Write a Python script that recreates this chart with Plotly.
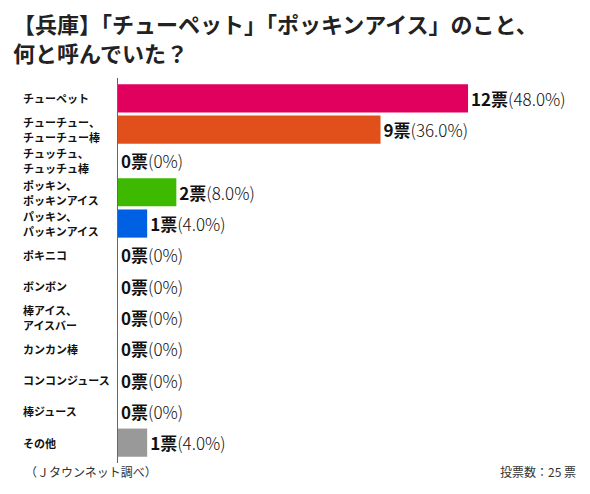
import plotly.graph_objects as go

# data
labels = ["チューペット", "チューチュー、<br>チューチュー棒", "チュッチュ、<br>チュッチュ棒",
          "ポッキン、<br>ポッキンアイス", "パッキン、<br>パッキンアイス", "ポキニコ", "ボンボン",
          "棒アイス、<br>アイスバー", "カンカン棒", "コンコンジュース", "棒ジュース", "その他"]
votes = [12, 9, 0, 2, 1, 0, 0, 0, 0, 0, 0, 1]
colors = ["#E2005F", "#E1501B", "#E1501B", "#3DBA00", "#0060E3", "#999999",
          "#999999", "#999999", "#999999", "#999999", "#999999", "#999999"]
total = 25
title_lines = ["【兵庫】「チューペット」「ポッキンアイス」のこと、", "何と呼んでいた？"]

pct = [f"{v / total * 100:.1f}%" if v else "0%" for v in votes]
font = "Noto Sans CJK JP"

fig = go.Figure(go.Bar(
    x=votes, y=labels, orientation="h",
    marker=dict(color=colors, line=dict(width=0)),
    customdata=pct,
    texttemplate="<b>%{x}票</b><span style=\"font-weight:300\">(%{customdata})</span>",
    textposition="outside",
    textfont=dict(family=font, size=17, color="#111111"),
    cliponaxis=False,
    hoverinfo="skip",
))

# category labels on the left, left-aligned; each text line as its own annotation
for lab in labels:
    parts = lab.split("<br>")
    n = len(parts)
    for j, part in enumerate(parts):
        fig.add_annotation(
            x=0, xref="paper", y=lab, yref="y", xshift=-96,
            yshift=(n - 1) * 7.5 - 15 * j,
            text="<b>" + part + "</b>", showarrow=False, xanchor="left",
            yanchor="middle", align="left", borderpad=0,
            font=dict(family=font, size=11, color="#111111"),
        )

# title, one annotation per line
for i, line in enumerate(title_lines):
    fig.add_annotation(
        x=0, xref="paper", y=1, yref="paper", xshift=-107, yshift=55 - 29 * i,
        text="<b>" + line + "</b>",
        showarrow=False, xanchor="left", yanchor="middle", align="left",
        font=dict(family=font, size=22, color="#222222"),
    )

fig.add_annotation(
    x=0, xref="paper", y=0, yref="paper", xshift=-95, yshift=-8,
    text="（Ｊタウンネット調べ）", showarrow=False, xanchor="left", yanchor="middle",
    font=dict(family=font, size=12, color="#333333"),
)
fig.add_annotation(
    x=1, xref="paper", y=0, yref="paper", xshift=-12, yshift=-8,
    text="投票数：25 票", showarrow=False, xanchor="right", yanchor="middle",
    font=dict(family=font, size=12, color="#333333"),
)

# page body adds 8px margin, so the figure is 8px smaller and shifted up/left
fig.update_layout(
    width=582, height=486,
    margin=dict(l=110, r=0, t=70, b=31),
    paper_bgcolor="white", plot_bgcolor="white",
    bargap=0.1, showlegend=False,
    xaxis=dict(range=[0, 472 / 29.17], visible=False, fixedrange=True),
    yaxis=dict(categoryorder="array", categoryarray=labels, range=[11.65, -0.65],
               showticklabels=False, showgrid=False, zeroline=False,
               showline=True, linecolor="#666666", linewidth=1, ticks=""),
)

fig.write_html("out.html")
